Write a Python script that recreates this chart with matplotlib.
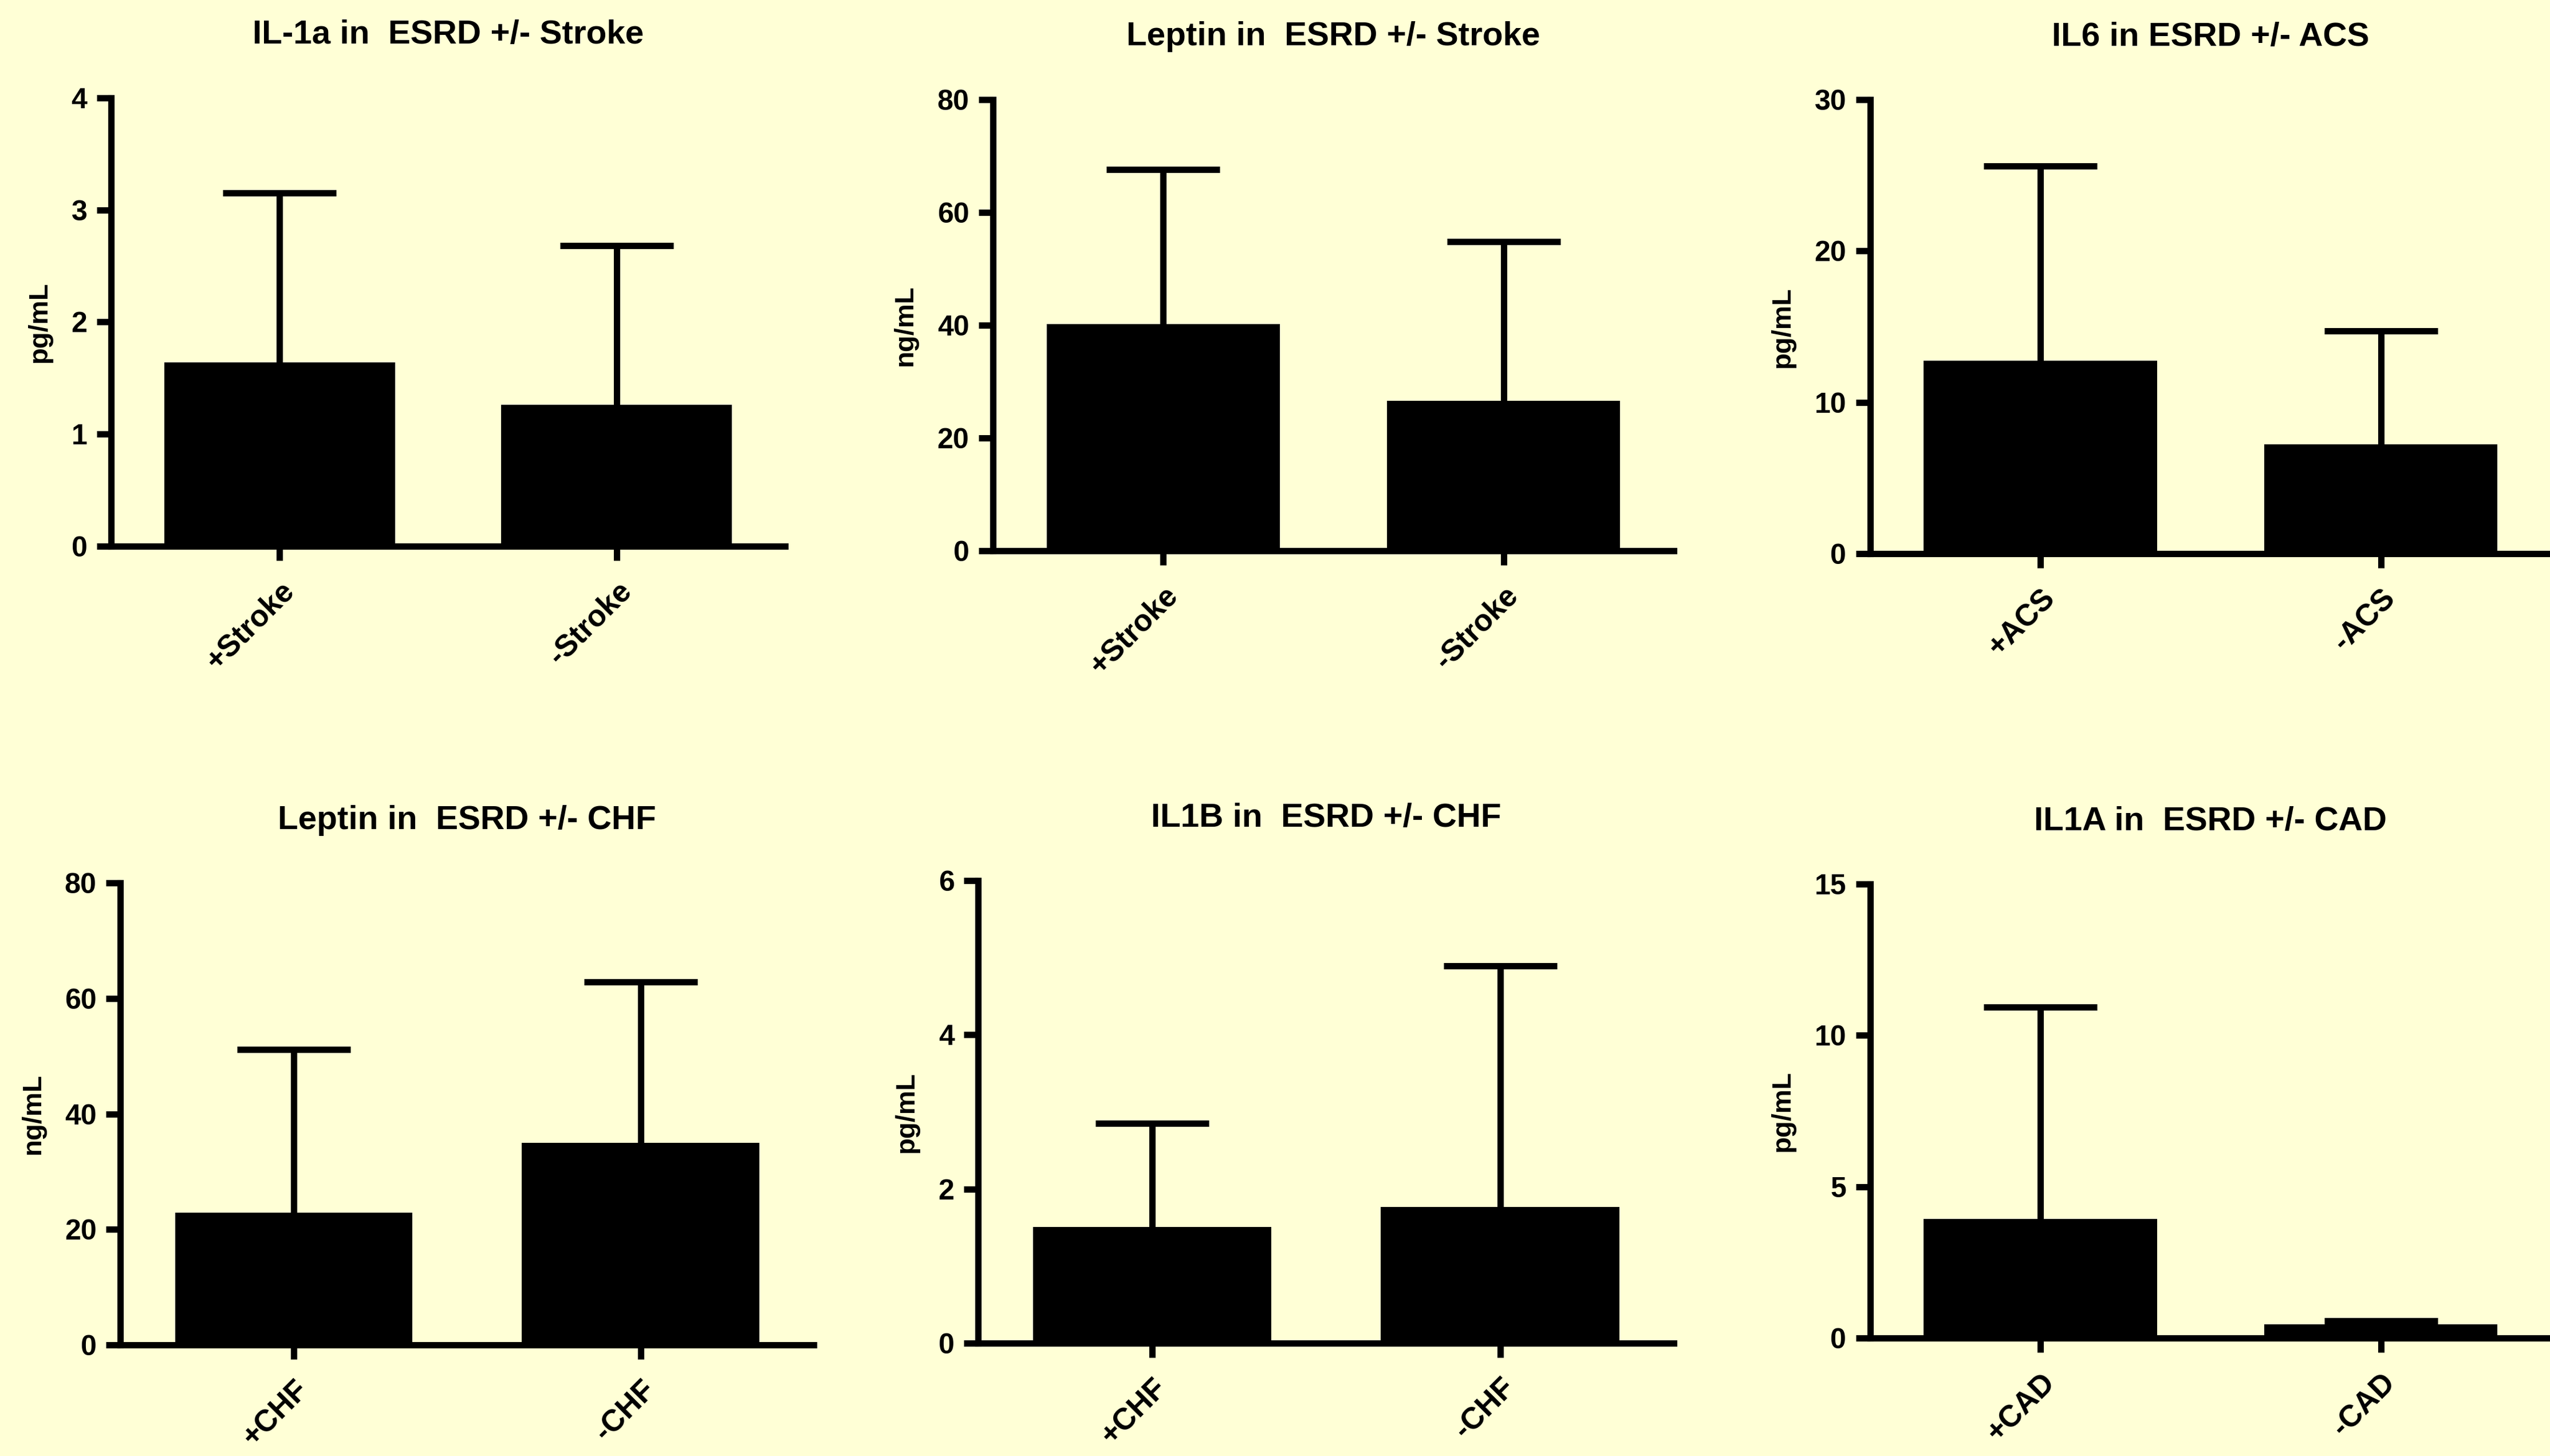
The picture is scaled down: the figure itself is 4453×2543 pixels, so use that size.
import numpy as np
from matplotlib import pyplot as plt

# значения (среднее и SD вверх)
titles = [
    "IL-1a in  ESRD +/- Stroke",
    "Leptin in  ESRD +/- Stroke",
    "IL6 in ESRD +/- ACS",
    "Leptin in  ESRD +/- CHF",
    "IL1B in  ESRD +/- CHF",
    "IL1A in  ESRD +/- CAD",
]
units = ["pg/mL", "ng/mL", "pg/mL", "ng/mL", "pg/mL", "pg/mL"]
groups = [
    ["+Stroke", "-Stroke"],
    ["+Stroke", "-Stroke"],
    ["+ACS", "-ACS"],
    ["+CHF", "-CHF"],
    ["+CHF", "-CHF"],
    ["+CAD", "-CAD"],
]
means = [
    [1.64, 1.26],
    [40.2, 26.6],
    [12.75, 7.24],
    [22.9, 35.0],
    [1.51, 1.77],
    [3.94, 0.46],
]
sds = [
    [1.51, 1.42],
    [27.4, 28.2],
    [12.85, 7.47],
    [28.3, 27.9],
    [1.34, 3.12],
    [6.99, 0.10],
]
y_max = [4, 80, 30, 80, 6, 15]
y_step = [1, 20, 10, 20, 2, 5]

# положение осей на листе (доли фигуры)
positions = [
    [0.0436, 0.6249, 0.2643, 0.3079],
    [0.3894, 0.6217, 0.2670, 0.3099],
    [0.7334, 0.6197, 0.2670, 0.3118],
    [0.0472, 0.0763, 0.2720, 0.3173],
    [0.3836, 0.0775, 0.2729, 0.3177],
    [0.7334, 0.0810, 0.2670, 0.3118],
]

bg = '#FFFFD6'
lw = 4

plt.rcParams['font.family'] = ['Liberation Sans', 'DejaVu Sans']
plt.rcParams['font.weight'] = 'bold'

fig = plt.figure(figsize=(22.265, 12.715), dpi=200, facecolor=bg)

for i in range(6):
    ax = fig.add_axes(positions[i])
    ax.set_facecolor(bg)
    x = np.arange(len(groups[i]))
    m = np.array(means[i])
    s = np.array(sds[i])

    ax.bar(x, m, width=0.685, color='black', zorder=2)
    eb = ax.errorbar(x, m, yerr=[np.zeros_like(s), s], fmt='none', ecolor='black',
                     elinewidth=lw, capsize=35.5, capthick=lw, zorder=3)
    # только верхний «ус»: нижние засечки прячем
    eb[1][0].set_visible(False)

    ax.set_xlim(-0.5, 1.5)
    ax.set_ylim(0, y_max[i])
    ax.set_yticks(np.arange(0, y_max[i] + 0.001, y_step[i]))
    ax.set_xticks(x)
    ax.set_xticklabels(groups[i], rotation=45, ha='right', rotation_mode='anchor',
                       fontsize=19, fontweight='bold')
    for lab in ax.get_yticklabels():
        lab.set_fontsize(18)
        lab.set_fontweight('bold')

    for side in ['top', 'right']:
        ax.spines[side].set_visible(False)
    for side in ['left', 'bottom']:
        ax.spines[side].set_linewidth(lw)
        ax.spines[side].set_capstyle('projecting')
    ax.spines['bottom'].set_zorder(4)

    ax.tick_params(axis='y', length=9, width=lw, pad=6)
    ax.tick_params(axis='x', length=9, width=lw, pad=10)

    ax.set_ylabel(units[i], fontsize=17, fontweight='bold', labelpad=12)
    ax.set_title(titles[i], fontsize=21, fontweight='bold', pad=34)

fig.savefig('out.png', dpi=200, facecolor=bg)
